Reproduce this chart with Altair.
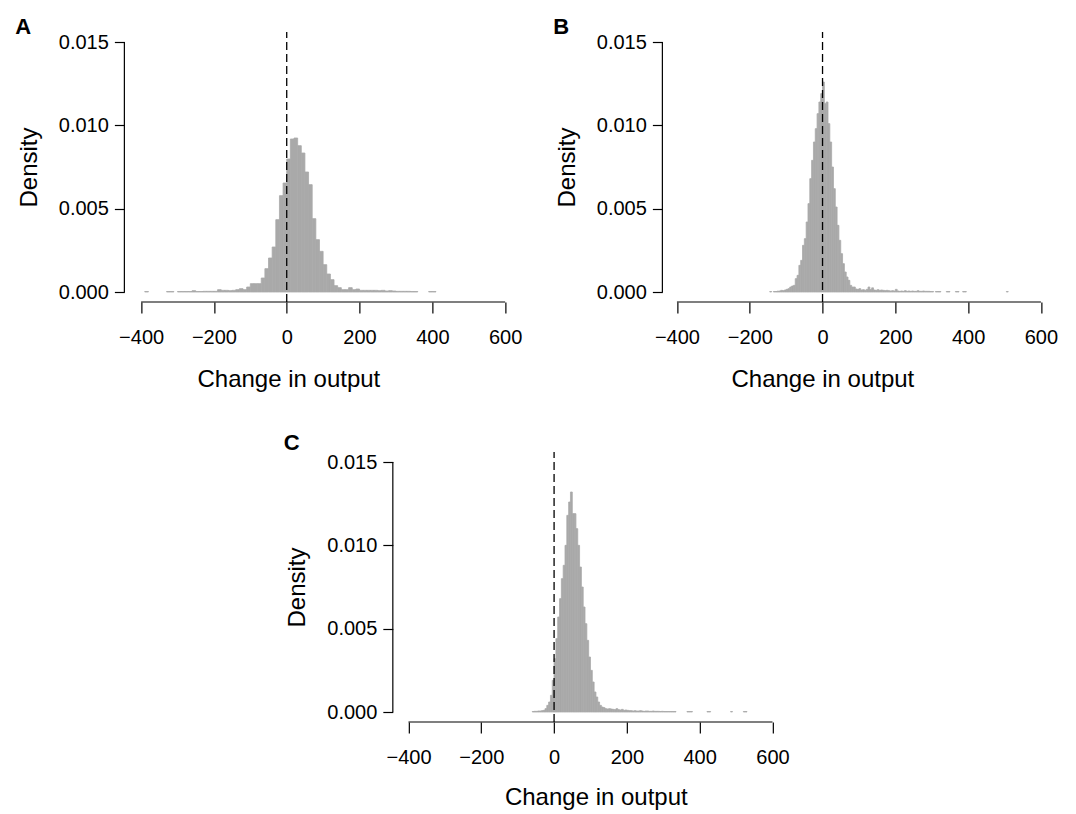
import altair as alt
import pandas as pd

# ---------------- data ----------------
X_TICKS = [-400, -200, 0, 200, 400, 600]
Y_TICKS = [0.0, 0.005, 0.010, 0.015]
X_TITLE = "Change in output"
Y_TITLE = "Density"
PANEL_LABELS = ["A", "B", "C"]
Y_LIMITS = [-0.0006, 0.0156]

# Panel A: bins of width 10 starting at -400
A_START, A_WIDTH = -400, 10
A_DENSITY = [
    0, 0.00003, 0, 0, 0, 0, 0, 0.00003, 0.00003, 0,              # -400 .. -310
    0.00003, 0.00003, 0.00003, 0.00003, 0.00008, 0.00003, 0.00003, 0.00004, 0.00004, 0.00004,  # -300 .. -210
    0.00004, 0.00014, 0.0001, 0.0001, 0.00008, 0.0001, 0.00014, 0.0002, 0.00014, 0.0003,      # -200 .. -110
    0.0005, 0.0005, 0.0005, 0.00084, 0.0014, 0.00204, 0.0027, 0.00434, 0.00578, 0.00654,     # -100 .. -10
    0.00798, 0.00918, 0.00924, 0.00878, 0.00834, 0.0072, 0.00644, 0.0044, 0.00314, 0.00244,  # 0 .. 90
    0.00164, 0.00108, 0.00074, 0.00038, 0.00026, 0.00014, 0.00014, 0.00026, 0.00014, 0.00018, # 100 .. 190
    0.0001, 0.0001, 0.0001, 0.0001, 0.0001, 0.00008, 0.0001, 0.00006, 0.00008, 0.00006,      # 200 .. 290
    0.00004, 0.00004, 0.00004, 0.00004, 0.00003, 0.00003, 0, 0, 0, 0.00003,                  # 300 .. 390
    0.00003, 0,                                                                               # 400 .. 410
]

# Panel B: bins of width 5 starting at -145
B_START, B_WIDTH = -145, 5
B_DENSITY = [
    0.00003, 0, 0.00003, 0.00003, 0.00005, 0.00006, 0.0001, 0.00008, 0.00012, 0.00016,      # -145 .. -100
    0.0002, 0.0003, 0.00036, 0.0004, 0.0008, 0.001, 0.0016, 0.0019, 0.0028, 0.0032,         # -95 .. -50
    0.0042, 0.0053, 0.0068, 0.0079, 0.0090, 0.0098, 0.0107, 0.0114, 0.0119, 0.0126,         # -45 .. 0
    0.0113, 0.0114, 0.0101, 0.0090, 0.0075, 0.0062, 0.0051, 0.0040, 0.0031, 0.0023,         # 5 .. 50
    0.0017, 0.0012, 0.0009, 0.0007, 0.0004, 0.0003, 0.0003, 0.00018, 0.00016, 0.0002,       # 55 .. 100
    0.00012, 0.00014, 0.0001, 0.00016, 0.0003, 0.00014, 0.00025, 0.00012, 0.0001, 0.00014,  # 105 .. 150
    0.0001, 0.00012, 0.0001, 0.00008, 0.0001, 0.00008, 0.00006, 0.00008, 0.00006, 0.00016,  # 155 .. 200
    0.00006, 0.00004, 0.00006, 0.00004, 0.00008, 0.00004, 0.00006, 0.00004, 0.00006, 0.00004,  # 205 .. 250
    0.00004, 0.00008, 0.00004, 0.00004, 0.00006, 0.00004, 0.00004, 0.00004, 0.00003, 0.00003,  # 255 .. 300
    0, 0.00003, 0.00003, 0.00003, 0, 0, 0, 0.00003, 0.00003, 0,                             # 305 .. 350
    0, 0, 0.00003, 0.00003, 0, 0, 0.00003, 0.00003, 0, 0,                                   # 355 .. 400
    0, 0, 0, 0, 0, 0, 0, 0, 0, 0,                                                           # 405 .. 450
    0, 0, 0, 0, 0, 0, 0, 0, 0, 0,                                                           # 455 .. 500
    0.00003,                                                                                # 505
]

# Panel C: bins of width 5 starting at -60
C_START, C_WIDTH = -60, 5
C_DENSITY = [
    0.00003, 0.00004, 0.00004, 0.00006, 0.00006, 0.00008, 0.0001, 0.0002, 0.0004, 0.0006,   # -60 .. -15
    0.001, 0.0019, 0.0032, 0.0044, 0.0057, 0.0068, 0.0080, 0.0088, 0.0100, 0.0118,          # -10 .. 35
    0.0126, 0.0132, 0.0119, 0.0119, 0.0110, 0.0100, 0.0087, 0.0075, 0.0063, 0.0053,         # 40 .. 85
    0.0043, 0.0033, 0.0025, 0.0018, 0.0012, 0.0009, 0.0006, 0.0004, 0.0003, 0.00026,        # 90 .. 135
    0.0002, 0.00018, 0.0002, 0.00018, 0.00016, 0.00014, 0.0002, 0.00014, 0.00012, 0.00016,  # 140 .. 185
    0.0001, 0.00012, 0.0001, 0.00008, 0.00008, 0.00006, 0.00008, 0.00006, 0.00006, 0.00008, # 190 .. 235
    0.00006, 0.00004, 0.00006, 0.00006, 0.00004, 0.00004, 0.00006, 0.00004, 0.00004, 0.00004,  # 240 .. 285
    0.00003, 0.00004, 0.00003, 0.00003, 0.00003, 0.00003, 0.00003, 0.00003, 0.00003, 0,     # 290 .. 335
    0, 0, 0, 0, 0, 0.00003, 0.00003, 0.00003, 0, 0,                                         # 340 .. 385
    0, 0, 0, 0, 0, 0, 0.00003, 0.00003, 0, 0,                                               # 390 .. 435
    0, 0, 0, 0, 0, 0, 0, 0, 0, 0.00003,                                                     # 440 .. 485
    0, 0, 0, 0, 0, 0, 0.00003, 0.00003,                                                     # 490 .. 525
]

# x-range of each panel's plotting region
X_LIMITS = {"A": [-446, 646], "B": [-440, 640], "C": [-443, 643]}
TITLE_OFFSET = {"A": -8, "B": -8, "C": -4}
XTITLE_X = {"A": 164, "B": 160, "C": 203}
XTITLE_PAD = {"A": 20, "B": 20, "C": 18}

PX_PER_UNIT = 0.364
PLOT_H = 270
FONT = "Liberation Sans"
BAR_COLOR = "#a9a9a9"


def make_panel(label, start, width, dens):
    xlim = X_LIMITS[label]
    df = pd.DataFrame({
        "x0": [start + i * width for i in range(len(dens))],
        "x1": [start + (i + 1) * width for i in range(len(dens))],
        "density": dens,
    })
    df = df[df["density"] > 0]

    xs = alt.Scale(domain=xlim, nice=False, zero=False)
    ys = alt.Scale(domain=Y_LIMITS, nice=False, zero=False)
    x_axis = alt.Axis(values=X_TICKS, title=X_TITLE, domain=False, grid=False,
                      tickSize=11, labelPadding=14, titlePadding=XTITLE_PAD[label],
                      titleX=XTITLE_X[label], titleAlign="center",
                      format="d", labelFlush=False)
    y_axis = alt.Axis(values=Y_TICKS, title=Y_TITLE, domain=False, grid=False,
                      tickSize=10, labelPadding=6, titlePadding=17,
                      format=".3f", labelAngle=0)

    bars = alt.Chart(df).mark_rect(color=BAR_COLOR, stroke=BAR_COLOR, strokeWidth=0.8).encode(
        x=alt.X("x0:Q", scale=xs, axis=x_axis),
        x2="x1:Q",
        y=alt.Y("density:Q", scale=ys, axis=y_axis),
        y2=alt.datum(0),
    )

    xline_df = pd.DataFrame({"x": [X_TICKS[0]], "x2": [X_TICKS[-1]], "y": [Y_LIMITS[0]]})
    xline = alt.Chart(xline_df).mark_rule(color="black", strokeWidth=1.2).encode(
        x=alt.X("x:Q", scale=xs, axis=x_axis), x2="x2:Q",
        y=alt.Y("y:Q", scale=ys, axis=y_axis),
    )
    yline_df = pd.DataFrame({"x": [xlim[0]], "y": [Y_TICKS[0]], "y2": [Y_TICKS[-1]]})
    yline = alt.Chart(yline_df).mark_rule(color="black", strokeWidth=1.2).encode(
        x=alt.X("x:Q", scale=xs, axis=x_axis),
        y=alt.Y("y:Q", scale=ys, axis=y_axis), y2="y2:Q",
    )
    zero_df = pd.DataFrame({"x": [0], "y": [Y_LIMITS[0]], "y2": [Y_LIMITS[1]]})
    zero = alt.Chart(zero_df).mark_rule(color="black", strokeWidth=1.3, strokeDash=[8, 4]).encode(
        x=alt.X("x:Q", scale=xs, axis=x_axis),
        y=alt.Y("y:Q", scale=ys, axis=y_axis), y2="y2:Q",
    )

    w = (xlim[1] - xlim[0]) * PX_PER_UNIT
    return alt.layer(bars, xline, yline, zero).properties(
        width=w, height=PLOT_H,
        title=alt.TitleParams(label, anchor="start", frame="bounds", fontSize=22,
                              fontWeight="bold", font=FONT, offset=TITLE_OFFSET[label],
                              dx=-2, color="black"),
    )


pa = make_panel("A", A_START, A_WIDTH, A_DENSITY)
pb = make_panel("B", B_START, B_WIDTH, B_DENSITY)
pc = make_panel("C", C_START, C_WIDTH, C_DENSITY)

top = alt.hconcat(pa, pb, spacing=30)
chart = alt.vconcat(top, pc, spacing=41, center=True).properties(
    padding={"left": 7, "top": 8, "right": 5, "bottom": 5}
).configure_view(stroke=None).configure_axis(
    labelFont=FONT, titleFont=FONT, labelFontSize=20, titleFontSize=24,
    titleFontWeight="normal", labelColor="black", titleColor="black",
    tickColor="black", tickWidth=1.2,
)

chart.save("out.html", embed_options={"renderer": "svg", "actions": False})
